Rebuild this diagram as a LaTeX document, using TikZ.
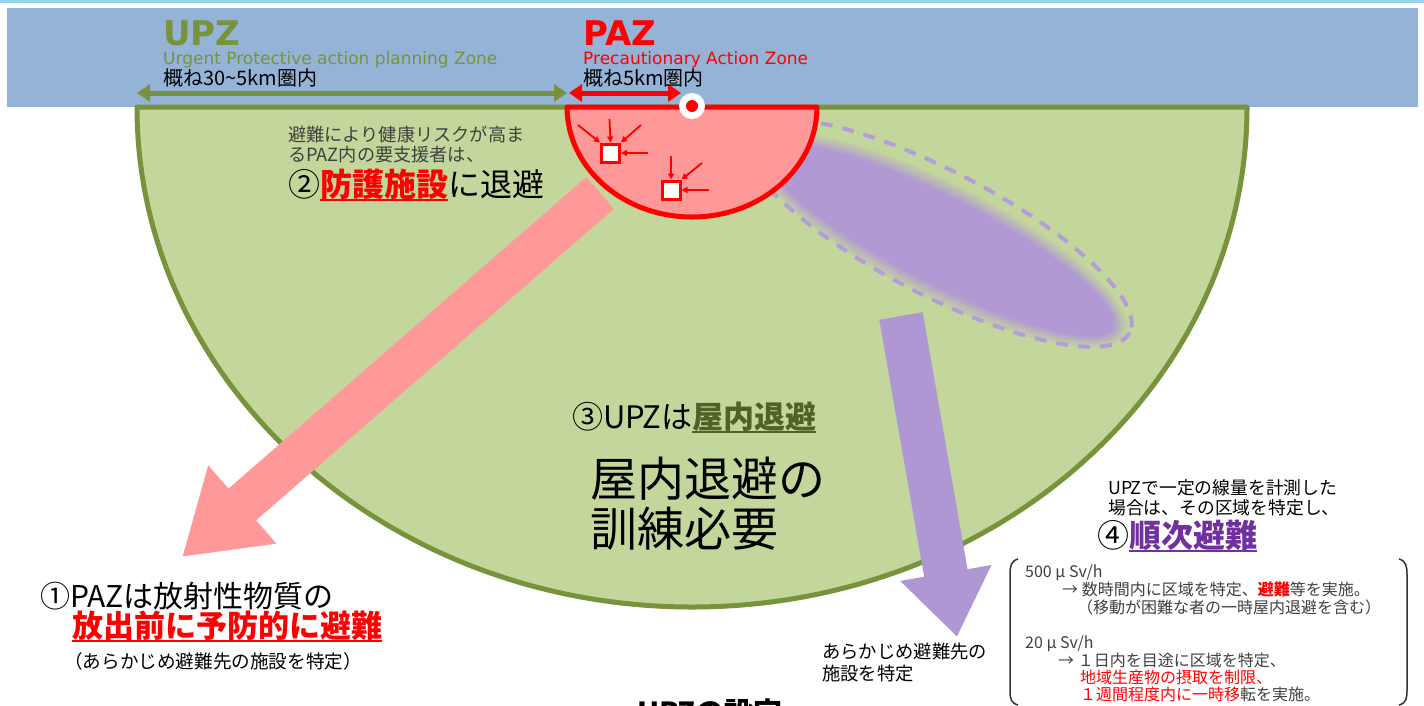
\documentclass[tikz,border=0pt]{standalone}
\usepackage{fontspec}
\setmainfont{Noto Sans CJK JP}
\newfontfamily\lat{DejaVu Sans}
\usetikzlibrary{arrows.meta,calc}
\definecolor{topcyan}{HTML}{97D4E9}
\definecolor{bandblue}{HTML}{95B3D7}
\definecolor{greenfill}{HTML}{C3D69B}
\definecolor{greenline}{HTML}{77933C}
\definecolor{pinkfill}{HTML}{FF9999}
\definecolor{purpfill}{HTML}{B199D4}
\definecolor{purpdash}{HTML}{B49EDA}
\definecolor{purparrow}{HTML}{AE97D3}
\definecolor{dkpurple}{HTML}{7030A0}
\definecolor{dkgreen}{HTML}{4F6228}
\definecolor{graytext}{HTML}{404040}
\newcommand\fs[1]{\fontsize{#1}{#1}\selectfont}
\newcommand\myul[1]{\setbox0=\hbox{#1}\rlap{\rule[-5pt]{\wd0}{2pt}}\box0}
\begin{document}
\begin{tikzpicture}[x=1pt,y=-1pt,
  txt/.style={inner sep=0pt, anchor=base west},
  redarr/.style={red, line width=1.8pt, -{Triangle[length=6pt,width=6pt]}},
  shelter/.style={draw=red, line width=3pt, fill=white, minimum size=18pt, inner sep=0pt}]
\useasboundingbox (0,0) rectangle (1424,705);
\fill[white] (0,0) rectangle (1424,705);
\fill[topcyan] (0,0) rectangle (1424,3);
\fill[bandblue] (7,8) rectangle (1418,107);
% UPZ zone
\draw[greenline, line width=5pt, fill=greenfill, line join=round]
  (137,107) -- (1247,107) arc[start angle=0, end angle=180, x radius=555, y radius=500] -- cycle;
% plume
\foreach \i in {0,...,8}{
  \pgfmathsetmacro\pc{\i*12.5}
  \pgfmathsetmacro\rx{194+(8-\i)*2}
  \pgfmathsetmacro\ry{43+(8-\i)*2}
  \fill[purpfill!\pc!greenfill, rotate around={-27:(940,240)}] (940,240) ellipse [x radius=\rx, y radius=\ry];
}
\draw[purpdash, line width=4pt, dash pattern=on 12pt off 10pt, rotate around={-27.5:(938,233)}]
  (938,233) ellipse [x radius=216, y radius=62];
% pink arrow
\coordinate (pa1) at (600,193);
\coordinate (pa2) at (182,557);
\draw[pinkfill, line width=42pt, -{Triangle[length=80pt,width=98pt]}] (pa1) -- (pa2);
% purple arrow
\coordinate (pv1) at (901,316);
\coordinate (pv2) at (957,637);
\draw[purparrow, line width=44pt, -{Triangle[length=65pt,width=88pt]}] (pv1) -- (pv2);
% PAZ zone
\draw[red, line width=5pt, fill=pinkfill, line join=round]
  (567,107) -- (817,107) arc[start angle=0, end angle=180, x radius=125, y radius=110] -- cycle;
% source
\node[circle, fill=white, minimum size=26pt, inner sep=0pt] (src) at (692,106) {};
\node[circle, fill=red, minimum size=12pt, inner sep=0pt] (srcc) at (src) {};
% shelters
\node[shelter] (s1) at (610.5,153) {};
\node[shelter] (s2) at (671,190) {};
\coordinate (a11) at (609.5,119);
\coordinate (a12) at (578,125);
\coordinate (a13) at (641,125);
\coordinate (a14) at (648,153);
\draw[redarr] (a11) -- (s1.north);
\draw[redarr] (a12) -- (s1.north west);
\draw[redarr] (a13) -- (s1.north east);
\draw[redarr] (a14) -- (s1.east);
\coordinate (a21) at (671,156);
\coordinate (a22) at (702,163);
\coordinate (a23) at (709,190);
\draw[redarr] (a21) -- (s2.north);
\draw[redarr] (a22) -- (s2.north east);
\draw[redarr] (a23) -- (s2.east);
% range arrows
\coordinate (g1) at (137,93);
\coordinate (g2) at (567,93);
\coordinate (r1) at (569,93);
\coordinate (r2) at (681,93);
\draw[greenline, line width=5pt, {Triangle[length=13pt,width=17pt]}-{Triangle[length=13pt,width=17pt]}] (g1) -- (g2);
\draw[red, line width=5pt, {Triangle[length=13pt,width=17pt]}-{Triangle[length=13pt,width=17pt]}] (r1) -- (r2);
% header texts
\node[txt, text=greenline] (upz) at (163,45) {\lat\bfseries\fs{34}UPZ};
\node[txt, text=greenline] (upzl) at (163,64) {\lat\fs{17}Urgent Protective action planning Zone};
\node[txt] (upzr) at (163,85) {\fs{20}概ね30{\char"7E}5km圏内};
\node[txt, text=red] (paz) at (583,45) {\lat\bfseries\fs{34}PAZ};
\node[txt, text=red] (pazl) at (583,64) {\lat\fs{17}Precautionary Action Zone};
\node[txt] (pazr) at (583,85) {\fs{20}概ね5km圏内};
% texts in zone
\node[txt, text=graytext] (t2a) at (288,141) {\fs{18.2}避難により健康リスクが高ま};
\node[txt, text=graytext] (t2b) at (288,161) {\fs{18.2}るPAZ内の要支援者は、};
\node[txt] (t2c) at (288,196) {\fs{32}②\textcolor{red}{\bfseries\myul{防護施設}}に退避};
\node[txt] (t3a) at (572,428) {\fs{31}③UPZは\textcolor{dkgreen}{\bfseries\myul{屋内退避}}};
\node[txt] (t3b) at (590,496) {\fs{47}屋内退避の};
\node[txt] (t3c) at (590,546) {\fs{47}訓練必要};
\node[txt] (t1a) at (40,607) {\fs{30}①PAZは放射性物質の};
\node[txt, text=red] (t1b) at (72,637) {\fs{31}\bfseries\myul{放出前に予防的に避難}};
\node[txt] (t1c) at (64,668) {\fs{18.6}（あらかじめ避難先の施設を特定）};
\node[txt] (t5a) at (822,658) {\fs{18.3}あらかじめ避難先の};
\node[txt] (t5b) at (822,680) {\fs{18.3}施設を特定};
\node[txt] (t4a) at (1108,494) {\fs{17.8}UPZで一定の線量を計測した};
\node[txt] (t4b) at (1108,514) {\fs{17.8}場合は、その区域を特定し、};
\node[txt] (t4c) at (1097,547) {\fs{32}④\textcolor{dkpurple}{\bfseries\myul{順次避難}}};
\node[txt] (t6) at (637,723) {\fs{29}\bfseries UPZの設定};
% bracket box
\draw[black!80, line width=1.5pt] (1018,559) .. controls (1011,561) and (1010,566) .. (1010,575) -- (1010,690) .. controls (1010,699) and (1011,703) .. (1018,705);
\draw[black!80, line width=1.5pt] (1399,559) .. controls (1406,561) and (1407,566) .. (1407,575) -- (1407,690) .. controls (1407,699) and (1406,703) .. (1399,705);
\node[txt, text=graytext] (b1) at (1025,577) {\fs{16}500 μ Sv/h};
\node[txt, text=graytext] (b2) at (1062,595) {\fs{16}→ 数時間内に区域を特定、\textcolor{red}{\bfseries 避難}等を実施。};
\node[txt, text=graytext] (b3) at (1077,613) {\fs{16}（移動が困難な者の一時屋内退避を含む）};
\node[txt, text=graytext] (b4) at (1025,648) {\fs{16}20 μ Sv/h};
\node[txt, text=graytext] (b5) at (1058,666) {\fs{16}→ １日内を目途に区域を特定、};
\node[txt, text=red] (b6) at (1080,683) {\fs{16}地域生産物の摂取を制限、};
\node[txt, text=red] (b7) at (1080,700) {\fs{16}１週間程度内に一時移\textcolor{graytext}{転を実施。}};
\end{tikzpicture}
\end{document}
